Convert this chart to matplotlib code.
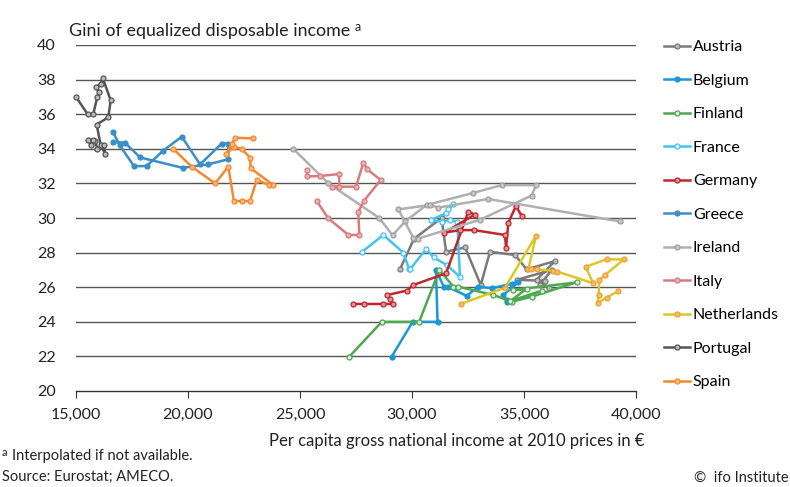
import matplotlib
matplotlib.use("Agg")
import matplotlib.pyplot as plt
from matplotlib.lines import Line2D
from matplotlib.colors import to_rgb

plt.rcParams['font.family'] = ['Lato', 'DejaVu Sans']

countries = ["Austria", "Belgium", "Finland", "France", "Germany", "Greece",
             "Ireland", "Italy", "Netherlands", "Portugal", "Spain"]

austria_x = [29460, 30090, 31320, 31520, 32370, 33070, 33480, 34600, 35120, 36380, 35560, 36130, 35710, 36240, 34670, 35940]
austria_y = [27.03, 28.8, 30.0, 28.05, 28.3, 26.13, 28.05, 27.86, 27.03, 27.51, 26.42, 25.97, 26.13, 27.0, 26.42, 26.38]

belgium_x = [29090, 30030, 31140, 31070, 31430, 31620, 32440, 32960, 33560, 34450, 34750, 34080, 34230, 34260]
belgium_y = [21.98, 24.0, 24.0, 26.99, 26.0, 26.0, 25.5, 26.03, 25.94, 26.2, 26.3, 25.55, 25.26, 25.16]

finland_x = [27200, 28650, 30320, 31220, 31850, 32070, 33630, 34450, 35340, 37350, 34520, 35120, 34380, 35790]
finland_y = [21.98, 24.0, 24.0, 26.99, 26.03, 26.03, 25.55, 25.16, 25.45, 26.28, 25.84, 25.9, 25.2, 25.8]

france_x = [27750, 28720, 29610, 29880, 29910, 30630, 30960, 31550, 32140, 32020, 31700, 31320, 30830, 31520, 31620, 31850]
france_y = [28.02, 29.02, 28.0, 27.03, 27.03, 28.2, 27.73, 27.28, 26.6, 29.79, 29.88, 29.79, 29.88, 30.27, 30.5, 30.79]

germany_x = [27350, 27860, 28720, 29140, 29020, 28900, 29760, 30060, 31520, 32510, 32810, 31430, 32140, 32770, 34150, 34200, 34300, 34640, 34900]
germany_y = [25.03, 25.03, 25.03, 25.03, 25.3, 25.55, 25.8, 26.13, 26.8, 30.36, 30.2, 29.15, 29.3, 29.3, 29.02, 28.28, 29.73, 30.69, 30.12]

greece_x = [16640, 16950, 17590, 18150, 18900, 19720, 20540, 21500, 21800, 21800, 20910, 19760, 17860, 17190, 16670]
greece_y = [35.0, 34.2, 33.0, 33.0, 33.9, 34.7, 33.1, 34.3, 34.3, 33.4, 33.1, 32.9, 33.5, 34.35, 34.4]

ireland_x = [24700, 26270, 28540, 29130, 29690, 30650, 32740, 34000, 35540, 35340, 33040, 30250, 30060, 29390, 30800, 31170, 33400, 39290]
ireland_y = [34.0, 32.0, 30.0, 29.0, 29.8, 30.75, 31.45, 31.9, 31.9, 31.3, 29.9, 28.8, 28.85, 30.5, 30.75, 30.6, 31.1, 29.8]

italy_x = [25300, 25330, 25890, 26750, 26750, 26410, 27500, 27830, 28010, 28600, 27860, 27600, 27650, 27160, 26260, 25740]
italy_y = [32.8, 32.4, 32.43, 32.54, 31.81, 31.81, 31.81, 33.2, 32.81, 32.2, 31.0, 30.36, 29.02, 29.02, 29.98, 31.0]

netherlands_x = [32170, 34150, 35540, 35190, 35310, 35570, 36310, 36490, 38090, 37750, 38690, 39460, 38620, 38360, 38330, 38290, 38690, 39210]
netherlands_y = [25.03, 25.97, 28.98, 27.03, 27.03, 27.03, 26.95, 26.9, 26.23, 27.18, 27.61, 27.61, 26.71, 26.42, 25.55, 25.1, 25.4, 25.78]

portugal_x = [15000, 15520, 15770, 15950, 16040, 15890, 16100, 16190, 16550, 16440, 15920, 16100, 16300, 16250, 15950, 15850, 15650, 15550, 15770]
portugal_y = [37.0, 36.0, 36.0, 37.0, 37.27, 37.55, 37.75, 38.1, 36.8, 35.82, 35.4, 34.24, 33.7, 34.2, 34.0, 34.47, 34.2, 34.53, 34.53]

spain_x = [19340, 20160, 21210, 21800, 22050, 22400, 22770, 23070, 23630, 23810, 22800, 22770, 22400, 22050, 21700, 21950, 22100, 22920]
spain_y = [34.0, 32.97, 32.0, 32.97, 30.98, 30.98, 30.98, 32.2, 31.9, 31.9, 32.87, 33.49, 33.99, 34.12, 33.68, 34.26, 34.64, 34.6]

x_ticks = [15000, 20000, 25000, 30000, 35000, 40000]
x_ticklabels = ["15,000", "20,000", "25,000", "30,000", "35,000", "40,000"]
y_ticks = [20, 22, 24, 26, 28, 30, 32, 34, 36, 38, 40]

series_x = [austria_x, belgium_x, finland_x, france_x, germany_x, greece_x,
            ireland_x, italy_x, netherlands_x, portugal_x, spain_x]
series_y = [austria_y, belgium_y, finland_y, france_y, germany_y, greece_y,
            ireland_y, italy_y, netherlands_y, portugal_y, spain_y]

line_colors = ["#7a7a7a", "#1b98d8", "#4fa84f", "#45c3f0", "#c0272d", "#3a8fc9",
               "#b0b0b0", "#d97b7e", "#dcc824", "#555555", "#f6882c"]
marker_edge = ["#7a7a7a", "#1b98d8", "#4fa84f", "#45c3f0", "#c0272d", "#3a8fc9",
               "#a0a0a0", "#d97b7e", "#f0a030", "#555555", "#f6882c"]
marker_face_mix = [0.5, 0.0, 0.8, 0.85, 0.5, 0.0, 0.4, 0.4, 0.3, 0.6, 0.4]


def lighten(c, f):
    r, g, b = to_rgb(c)
    return (r + (1 - r) * f, g + (1 - g) * f, b + (1 - b) * f)


fig = plt.figure(figsize=(7.9, 4.87), dpi=100)
ax = fig.add_axes([76 / 790, 1 - 391 / 487, 560 / 790, 346 / 487])

for yv in y_ticks[1:]:
    ax.axhline(yv, color="#555555", lw=1.0, zorder=1)

handles = []
for name, xs, ys, lc, mc, mf in zip(countries, series_x, series_y, line_colors,
                                      marker_edge, marker_face_mix):
    ax.plot(xs, ys, color=lc, lw=1.8, marker="o", ms=3.6, mew=0.9,
            mec=mc, mfc=lighten(mc, mf), zorder=3, clip_on=False)
    handles.append(Line2D([0], [0], color=lc, lw=1.8, marker="o", ms=3.6, mew=0.9,
                          mec=mc, mfc=lighten(mc, mf)))

ax.set_xlim(15000, 40000)
ax.set_ylim(20, 40)
ax.set_xticks(x_ticks)
ax.set_xticklabels(x_ticklabels, fontsize=11.5, color="#222222")
ax.set_yticks(y_ticks)
ax.set_yticklabels([str(v) for v in y_ticks], fontsize=11.5, color="#222222")
for s in ["top", "right", "left"]:
    ax.spines[s].set_visible(False)
ax.spines["bottom"].set_color("#333333")
ax.spines["bottom"].set_linewidth(1.0)
ax.tick_params(axis="y", length=0, pad=14.5)
ax.tick_params(axis="x", length=5, direction="out", color="#333333", pad=7)
ax.set_xlabel("Per capita gross national income at 2010 prices in €",
              fontsize=12, color="#222222")
ax.xaxis.set_label_coords(0.68, -0.12)

fig.legend(handles, countries, loc="upper left", bbox_to_anchor=(664 / 790, 1 - 40 / 487),
           frameon=False, fontsize=11.5, labelspacing=1.21, handlelength=1.6,
           handletextpad=0.2, borderaxespad=0, borderpad=0)

title = fig.text(69 / 790, 1 - 31 / 487, "Gini of equalized disposable income", fontsize=12.9,
                 color="#222222", va="center", ha="left")
fig.canvas.draw()
ax.annotate("a", xy=(1, 0.5), xycoords=title, xytext=(3, 3), textcoords="offset points",
            fontsize=9, color="#222222", va="center", ha="left")

fig.text(2 / 790, 1 - 453 / 487, "a", fontsize=8, color="#222222", va="center", ha="left")
fig.text(12 / 790, 1 - 456 / 487, "Interpolated if not available.", fontsize=10.5,
         color="#222222", va="center", ha="left")
fig.text(2 / 790, 1 - 477 / 487, "Source: Eurostat; AMECO.", fontsize=10.5,
         color="#222222", va="center", ha="left")
fig.text(789 / 790, 1 - 478 / 487, "©  ifo Institute", fontsize=10.5,
         color="#222222", va="center", ha="right")

fig.savefig("out.png", dpi=100)
